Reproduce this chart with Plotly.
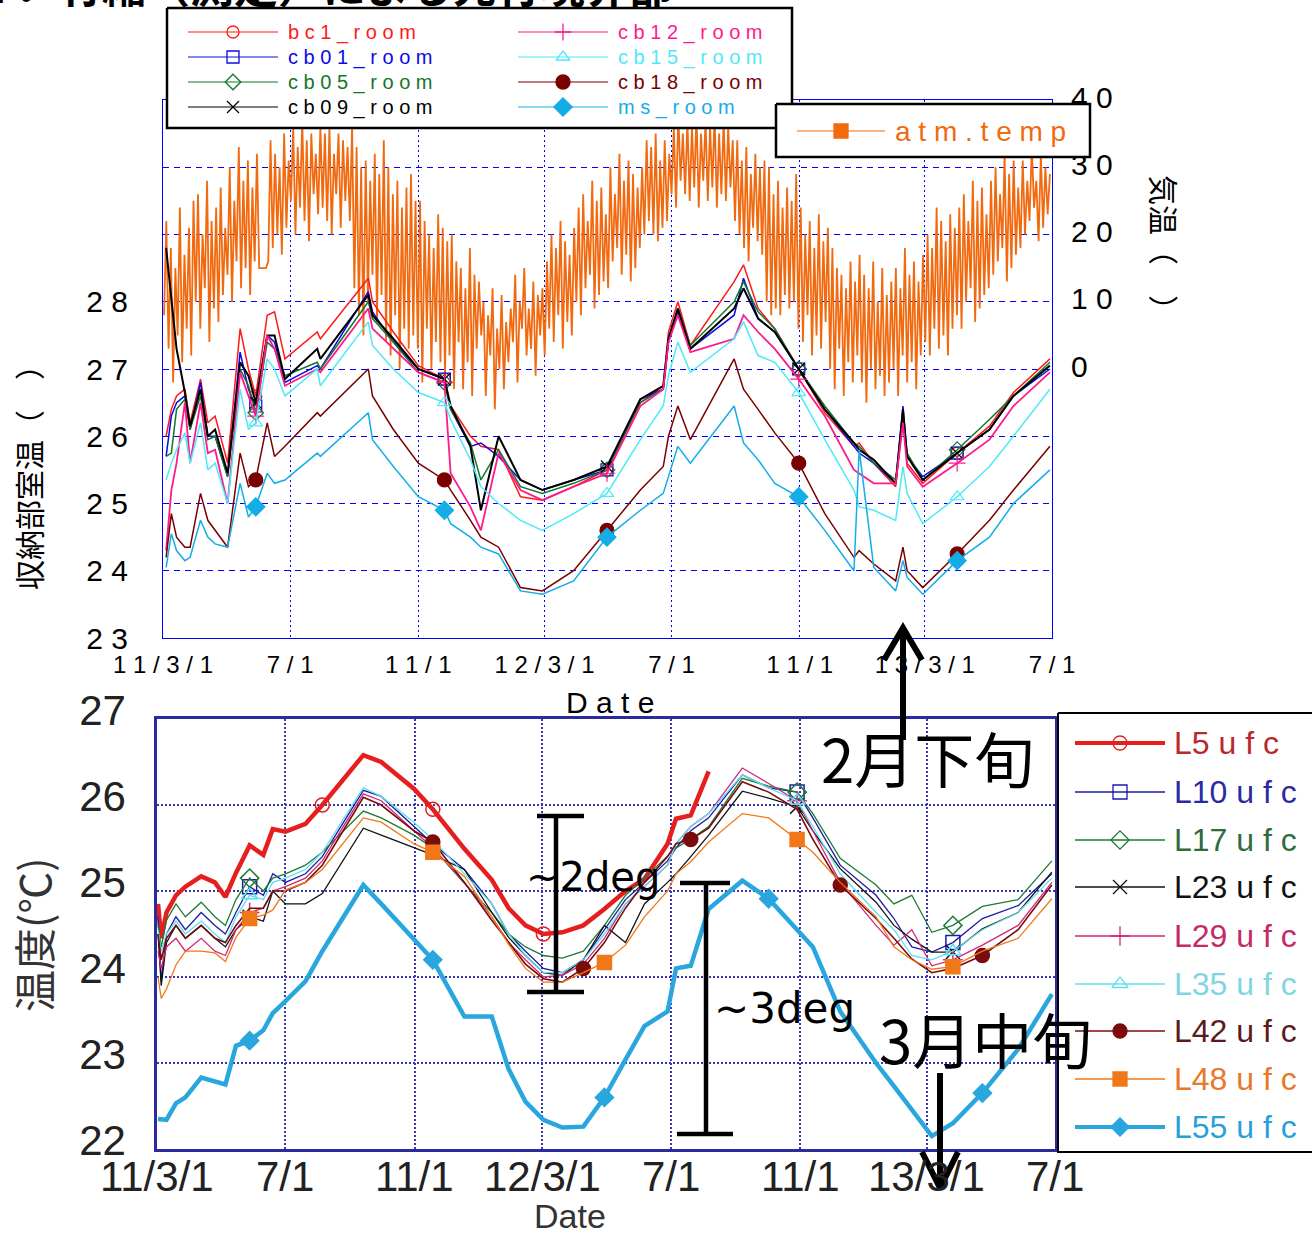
import plotly.graph_objects as go
import pandas as pd

W, H = 1312, 1236

# ---------------- axis ticks ----------------
TICK_DATES = ["2011-03-01", "2011-07-01", "2011-11-01", "2012-03-01",
              "2012-07-01", "2012-11-01", "2013-03-01", "2013-07-01"]
TICK_LABELS = ["11/3/1", "7/1", "11/1", "12/3/1", "7/1", "11/1", "13/3/1", "7/1"]
ROOM_TICKS = [23, 24, 25, 26, 27, 28, 29, 30, 31]
ROOM_LABELS = ["23", "24", "25", "26", "27", "28", "", "", ""]
ATM_TICKS = [0, 10, 20, 30, 40]
BOT_TICKS = [22, 23, 24, 25, 26, 27]

# ---------------- top chart: room temperatures ----------------
TOP_DATES = ["2011-03-04", "2011-03-09", "2011-03-14", "2011-03-22", "2011-03-27",
             "2011-04-06", "2011-04-13", "2011-04-20", "2011-05-02", "2011-05-14",
             "2011-05-22", "2011-05-29", "2011-06-09", "2011-06-16", "2011-06-26",
             "2011-07-27", "2011-07-30", "2011-09-14", "2011-09-18", "2011-10-08",
             "2011-11-01", "2011-11-26", "2011-12-02", "2011-12-21", "2011-12-31",
             "2012-01-17", "2012-02-07", "2012-02-28", "2012-03-29", "2012-04-30",
             "2012-06-01", "2012-06-23", "2012-06-28", "2012-07-07", "2012-07-19",
             "2012-08-30", "2012-09-08", "2012-09-22", "2012-10-08", "2012-10-31",
             "2012-11-25", "2012-12-23", "2012-12-28", "2013-01-11", "2013-02-01",
             "2013-02-08", "2013-02-12", "2013-02-27", "2013-04-01", "2013-05-02",
             "2013-05-25", "2013-06-29"]

BC1_ROOM = [26.0, 26.4, 26.6, 26.7, 26.2, 26.85, 26.2, 26.3, 25.6, 27.6,
            27.0, 26.6, 27.8, 27.85, 27.15, 27.55, 27.45, 28.35, 28.0, 27.55,
            27.05, 26.85, 26.45, 26.0, 25.85, 25.8, 25.1, 25.05, 25.25, 25.5,
            26.5, 26.75, 27.55, 28.0, 27.35, 28.3, 28.55, 27.9, 27.6, 27.0,
            26.35, 25.85, 25.9, 25.6, 25.25, 26.3, 25.6, 25.3, 25.75, 26.15,
            26.65, 27.15]
CB01_ROOM = [25.7, 26.3, 26.5, 26.6, 26.1, 26.8, 26.0, 26.0, 25.4, 27.25,
             26.7, 26.45, 27.5, 27.4, 26.8, 27.05, 27.0, 28.15, 27.85, 27.4,
             27.0, 26.85, 26.4, 25.85, 25.9, 25.7, 25.35, 25.2, 25.35, 25.5,
             26.55, 26.7, 27.4, 27.85, 27.3, 27.8, 28.35, 27.75, 27.55, 27.0,
             26.4, 25.85, 25.75, 25.6, 25.3, 26.45, 25.7, 25.4, 25.75, 26.1,
             26.6, 27.0]
CB05_ROOM = [25.7, 25.75, 26.4, 26.55, 26.1, 26.6, 25.95, 26.0, 25.4, 27.0,
             26.75, 26.35, 27.4, 27.3, 26.9, 27.1, 27.0, 28.0, 27.75, 27.4,
             26.95, 26.8, 26.4, 25.9, 25.35, 25.8, 25.25, 25.15, 25.3, 25.5,
             26.5, 26.7, 27.45, 27.9, 27.35, 28.0, 28.3, 27.85, 27.6, 27.0,
             26.45, 25.9, 25.85, 25.6, 25.35, 26.2, 25.75, 25.35, 25.8, 26.25,
             26.6, 27.1]
CB09_ROOM = [28.8, 28.0, 27.3, 26.65, 26.15, 26.7, 26.0, 26.1, 25.45, 27.1,
             26.9, 26.5, 27.5, 27.5, 26.85, 27.3, 27.15, 28.1, 27.8, 27.45,
             27.0, 26.85, 26.45, 25.85, 24.9, 26.0, 25.35, 25.2, 25.35, 25.55,
             26.55, 26.75, 27.45, 27.9, 27.3, 27.9, 28.2, 27.75, 27.55, 27.0,
             26.4, 25.9, 25.8, 25.65, 25.3, 26.4, 25.7, 25.35, 25.75, 26.1,
             26.6, 27.05]
CB12_ROOM = [24.3, 25.2, 25.6, 26.5, 25.6, 26.5, 25.75, 25.8, 25.0, 26.95,
             26.6, 26.3, 27.5, 27.3, 26.75, 27.0, 26.95, 27.9, 27.6, 27.3,
             26.95, 26.8, 25.45, 24.95, 24.6, 25.75, 25.2, 25.05, 25.25, 25.45,
             26.45, 26.7, 27.4, 27.8, 27.25, 27.45, 27.8, 27.55, 27.3, 26.85,
             26.3, 25.5, 25.45, 25.3, 25.3, 26.2, 25.55, 25.25, 25.6, 25.95,
             26.45, 26.95]
CB15_ROOM = [25.35, 25.6, 25.8, 26.05, 25.6, 26.2, 25.5, 25.6, 25.0, 26.7,
             26.1, 26.2, 27.15, 27.0, 26.6, 27.0, 26.75, 27.7, 27.35, 27.0,
             26.65, 26.5, 26.25, 25.65, 25.25, 25.0, 24.75, 24.6, 24.85, 25.15,
             25.95, 26.45, 26.9, 27.4, 26.95, 27.45, 27.7, 27.2, 27.1, 26.65,
             25.95, 25.2, 24.95, 24.9, 24.75, 25.55, 25.15, 24.7, 25.1, 25.55,
             26.0, 26.7]
CB18_ROOM = [24.2, 24.85, 24.5, 24.35, 24.35, 25.15, 24.75, 24.6, 24.35, 25.75,
             25.25, 25.35, 26.2, 25.7, 25.85, 26.35, 26.3, 27.0, 26.6, 26.1,
             25.6, 25.35, 25.2, 24.75, 24.5, 24.35, 23.75, 23.7, 24.0, 24.6,
             25.2, 25.55, 26.0, 26.45, 25.95, 27.15, 26.7, 26.4, 26.05, 25.6,
             24.85, 24.2, 24.3, 24.1, 23.85, 24.35, 24.0, 23.75, 24.25, 24.75,
             25.2, 25.85]
MS_ROOM = [24.05, 24.55, 24.3, 24.15, 24.2, 24.75, 24.5, 24.4, 24.35, 25.3,
           24.8, 24.95, 25.45, 25.3, 25.35, 25.75, 25.7, 26.35, 25.95, 25.55,
           25.1, 24.9, 24.7, 24.5, 24.35, 24.25, 23.7, 23.65, 23.85, 24.5,
           24.9, 25.15, 25.4, 25.85, 25.6, 26.45, 25.9, 25.65, 25.3, 25.1,
           24.6, 24.0, 25.8, 24.05, 23.7, 24.15, 23.9, 23.65, 24.15, 24.5,
           25.0, 25.5]
TOP_MARK_IDX = [11, 21, 29, 39, 48]

# atmospheric temperature (right axis), 14 readings per month, Mar 2011 - Jun 2013
ATM_BY_MONTH = [
    [8, 22, 3, 18, -2, 15, 5, 24, 1, 17, 6, 21, 2, 25],
    [10, 26, 6, 20, 12, 28, 4, 22, 9, 24, 7, 27, 11, 21],
    [14, 30, 10, 25, 16, 33, 12, 28, 15, 31, 11, 27, 16, 32],
    [15, 15, 15, 15, 16, 34, 18, 32, 20, 30, 17, 35, 21, 31],
    [25, 36, 20, 33, 24, 37, 22, 34, 19, 35, 26, 32, 23, 36],
    [24, 35, 22, 36, 20, 32, 26, 35, 21, 34, 25, 33, 22, 36],
    [12, 33, 8, 30, 5, 31, 10, 28, 14, 32, 7, 29, 11, 34],
    [4, 30, 2, 26, 8, 28, 0, 24, 6, 27, 3, 29, 5, 25],
    [3, 25, -2, 22, 6, 20, 0, 18, 4, 23, 1, 21, -1, 19],
    [2, 20, -3, 16, 4, 15, -3, 12, 1, 18, -4, 14, 3, 13],
    [5, 10, -4, 8, 2, 12, -6, 6, 0, 11, -3, 7, 1, 9],
    [4, 14, -2, 10, 6, 15, 2, 9, 3, 13, -1, 11, 5, 12],
    [2, 16, 6, 20, 4, 18, 8, 22, 3, 19, 7, 17, 5, 21],
    [10, 24, 8, 26, 12, 22, 14, 28, 9, 25, 11, 27, 13, 23],
    [12, 30, 16, 26, 18, 32, 14, 28, 17, 31, 13, 29, 15, 27],
    [18, 30, 20, 34, 22, 33, 20, 35, 19, 31, 21, 34, 22, 32],
    [26, 36, 24, 38, 28, 35, 26, 37, 25, 36, 27, 38, 24, 35],
    [28, 37, 25, 36, 27, 38, 24, 35, 26, 37, 25, 36, 27, 34],
    [22, 34, 20, 31, 18, 33, 16, 29, 21, 32, 19, 30, 17, 31],
    [10, 30, 8, 26, 9, 28, 8, 24, 11, 27, 9, 25, 10, 29],
    [6, 24, 4, 20, 8, 22, 2, 18, 5, 23, 3, 19, 7, 21],
    [0, 18, -3, 15, 3, 14, -4, 12, 1, 16, -2, 13, 2, 17],
    [-2, 14, -5, 12, 0, 16, -3, 10, -1, 15, -4, 11, -2, 13],
    [0, 15, -4, 12, 2, 18, -2, 14, 1, 16, -3, 13, 2, 17],
    [4, 20, 2, 18, 6, 24, 3, 22, 5, 19, 2, 23, 6, 21],
    [8, 24, 6, 26, 10, 22, 12, 28, 7, 25, 9, 27, 11, 23],
    [12, 28, 14, 30, 16, 26, 18, 32, 13, 29, 15, 31, 17, 27],
    [18, 31, 20, 28, 22, 33, 24, 28, 19, 32, 21, 30, 23, 29],
]
ATM_TEMP = [v for month in ATM_BY_MONTH for v in month]
ATM_DATES = pd.date_range("2011-03-02", "2013-06-29", periods=len(ATM_TEMP))

# ---------------- bottom chart: ufc temperatures ----------------
BOT_DATES = ["2011-03-02", "2011-03-05", "2011-03-10", "2011-03-19", "2011-03-28",
             "2011-04-12", "2011-04-25", "2011-05-05", "2011-05-15", "2011-05-28",
             "2011-06-10", "2011-06-19", "2011-07-01", "2011-07-20", "2011-08-05",
             "2011-09-13", "2011-09-30", "2011-10-31", "2011-11-18", "2011-12-18",
             "2012-01-13", "2012-01-29", "2012-02-14", "2012-03-02", "2012-03-20",
             "2012-04-09", "2012-04-29", "2012-05-19", "2012-06-06", "2012-06-28",
             "2012-07-06", "2012-07-20", "2012-08-06", "2012-09-07", "2012-10-02",
             "2012-10-29", "2012-11-13", "2012-12-09", "2013-01-12", "2013-01-29",
             "2013-02-15", "2013-03-06", "2013-03-26", "2013-04-23", "2013-05-27",
             "2013-06-28"]
L5 = [24.85, 24.45, 24.75, 24.95, 25.05, 25.17, 25.1, 24.93, 25.21, 25.53,
      25.42, 25.72, 25.69, 25.78, 26.0, 26.58, 26.5, 26.19, 25.95, 25.49,
      25.13, 24.8, 24.6, 24.5, 24.52, 24.6, 24.79, 25.0, 25.14, 25.55,
      25.84, 25.88, 26.39] + [None] * 13
L10 = [24.7, 23.95, 24.5, 24.7, 24.55, 24.75, 24.6, 24.5, 24.75, 25.05,
       24.95, 25.2, 25.1, 25.2, 25.4, 26.17, 26.1, 25.75, 25.55, 25.25,
       24.85, 24.5, 24.3, 24.1, 24.05, 24.2, 24.55, 24.9, 25.1, 25.35,
       25.5, 25.7, 25.85, 26.35, 26.2, 26.15, 25.85, 25.3, 24.95, 24.68,
       24.35, 24.29, 24.4, 24.68, 24.83, 25.2]
L17 = [24.6, 24.35, 24.66, 24.85, 24.7, 24.87, 24.7, 24.6, 24.9, 25.15,
       25.0, 25.15, 25.2, 25.3, 25.45, 25.93, 25.85, 25.65, 25.5, 25.09,
       24.75, 24.5, 24.35, 24.25, 24.22, 24.3, 24.6, 24.95, 25.15, 25.4,
       25.5, 25.6, 25.75, 26.31, 26.22, 26.15, 25.9, 25.38, 25.07, 24.85,
       24.95, 24.52, 24.6, 24.82, 24.9, 25.35]
L23 = [24.5, 23.9, 24.4, 24.6, 24.45, 24.6, 24.45, 24.35, 24.55, 24.7,
       24.65, 25.0, 24.85, 24.85, 24.97, 25.73, 25.65, 25.5, 25.42, 25.25,
       24.75, 24.46, 24.25, 24.05, 24.02, 24.2, 24.6, 24.4, 24.85, 25.1,
       25.2, 25.4, 25.65, 26.16, 26.08, 25.98, 25.7, 25.26, 24.87, 24.6,
       24.44, 24.29, 24.29, 24.56, 24.75, 25.22]
L29 = [24.3, 24.1, 24.35, 24.45, 24.3, 24.45, 24.3, 24.25, 24.55, 24.75,
       24.8, 25.0, 25.05, 25.15, 25.35, 26.13, 26.05, 25.7, 25.5, 25.1,
       24.7, 24.4, 24.2, 24.0, 24.02, 24.15, 24.45, 24.85, 25.05, 25.3,
       25.55, 25.75, 25.9, 26.43, 26.25, 26.05, 25.7, 25.1, 24.6, 24.37,
       24.55, 24.13, 24.2, 24.37, 24.6, 25.1]
L35 = [24.55, 24.3, 24.5, 24.65, 24.5, 24.65, 24.5, 24.4, 24.7, 24.95,
       24.9, 25.1, 25.15, 25.25, 25.45, 26.2, 26.1, 25.8, 25.6, 25.2,
       24.85, 24.5, 24.25, 24.05, 24.05, 24.2, 24.5, 24.85, 25.05, 25.3,
       25.55, 25.75, 25.9, 26.35, 26.2, 26.05, 25.75, 25.2, 24.75, 24.55,
       24.25, 24.2, 24.3, 24.55, 24.75, 25.15]
L42 = [24.5, 24.2, 24.45, 24.6, 24.45, 24.6, 24.45, 24.4, 24.6, 24.8,
       24.8, 25.0, 25.0, 25.1, 25.3, 26.09, 26.0, 25.7, 25.57, 25.1,
       24.66, 24.4, 24.15, 23.98, 23.94, 24.1, 24.4, 24.8, 25.1, 25.4,
       25.55, 25.6, 25.73, 26.27, 26.15, 25.95, 25.6, 25.07, 24.68, 24.45,
       24.21, 24.05, 24.1, 24.25, 24.55, 25.07]
L48 = [24.0, 23.75, 23.86, 24.14, 24.3, 24.3, 24.28, 24.18, 24.46, 24.68,
       24.72, 24.78, 25.01, 25.1, 25.25, 25.85, 25.8, 25.55, 25.45, 25.17,
       24.7, 24.38, 24.1, 23.94, 23.94, 24.05, 24.17, 24.37, 24.7, 25.0,
       25.2, 25.34, 25.57, 25.9, 25.85, 25.6, 25.45, 25.1, 24.7, 24.35,
       24.2, 24.09, 24.12, 24.3, 24.45, 24.91]
L55 = [22.35, 22.35, 22.34, 22.53, 22.6, 22.83, 22.78, 22.75, 23.2, 23.26,
       23.38, 23.58, 23.72, 23.95, 24.3, 25.07, 24.85, 24.44, 24.2, 23.54,
       23.54, 22.93, 22.55, 22.34, 22.25, 22.26, 22.6, 23.04, 23.43, 23.6,
       24.1, 24.13, 24.79, 25.12, 24.91, 24.55, 24.35, 23.6, 23.0, 22.73,
       22.46, 22.15, 22.3, 22.65, 23.16, 23.8]

# ---------------- styles ----------------
TOP_SERIES = [
    ("bc1_room", BC1_ROOM, "#ff1a1a", "circle-open", 1.5),
    ("cb01_room", CB01_ROOM, "#0a0ae6", "square-open", 1.5),
    ("cb05_room", CB05_ROOM, "#13772a", "diamond-open", 1.5),
    ("cb09_room", CB09_ROOM, "#000000", "x-thin-open", 2.0),
    ("cb12_room", CB12_ROOM, "#ff1a8c", "cross-thin-open", 1.8),
    ("cb15_room", CB15_ROOM, "#4fe9f7", "triangle-up-open", 1.5),
    ("cb18_room", CB18_ROOM, "#7a0000", "circle", 1.5),
    ("ms_room", MS_ROOM, "#14ade6", "diamond", 1.5),
]
BOT_SERIES = [
    ("L5", L5, "#e61e1e", "#b8282c", "circle-open", 4.5, [14, 18, 23]),
    ("L10", L10, "#1c1ca6", "#2b2ba0", "square-open", 1.3, [9, 35, 42]),
    ("L17", L17, "#1e7a32", "#2f6b3c", "diamond-open", 1.3, [9, 35, 42]),
    ("L23", L23, "#111111", "#111111", "x-thin-open", 1.3, [9, 35, 42]),
    ("L29", L29, "#d0287a", "#c42a6a", "cross-thin-open", 1.3, [9, 35, 42]),
    ("L35", L35, "#5fe0ef", "#7fd6df", "triangle-up-open", 1.3, [9, 35, 42]),
    ("L42", L42, "#7a0c0c", "#5c1a1a", "circle", 1.6, [18, 25, 31, 37, 43]),
    ("L48", L48, "#f07818", "#e8782a", "square", 1.3, [9, 18, 26, 35, 42]),
    ("L55", L55, "#29a6de", "#2a9fd6", "diamond", 4.5, [9, 18, 26, 34, 43]),
]
BLUE = "#0000ff"
NAVY = "#2b2ba0"

fig = go.Figure()

# atmospheric temperature first (underneath)
fig.add_trace(go.Scatter(x=ATM_DATES, y=ATM_TEMP, xaxis="x", yaxis="y", mode="lines",
                         line=dict(color="#f26a10", width=1.8), hoverinfo="skip"))

for name, vals, col, sym, lw in TOP_SERIES:
    fig.add_trace(go.Scatter(x=TOP_DATES, y=vals, xaxis="x", yaxis="y2", mode="lines",
                             line=dict(color=col, width=lw), hoverinfo="skip"))
    filled = sym in ("circle", "diamond")
    fig.add_trace(go.Scatter(
        x=[TOP_DATES[i] for i in TOP_MARK_IDX], y=[vals[i] for i in TOP_MARK_IDX],
        xaxis="x", yaxis="y2", mode="markers",
        marker=dict(symbol=sym, size=14 if filled else 12, color=col,
                    line=dict(color=col, width=1.2)), hoverinfo="skip"))

for name, vals, col, tcol, sym, lw, midx in BOT_SERIES:
    fig.add_trace(go.Scatter(x=BOT_DATES, y=vals, xaxis="x2", yaxis="y3", mode="lines",
                             line=dict(color=col, width=lw), connectgaps=False,
                             hoverinfo="skip"))
    fig.add_trace(go.Scatter(
        x=[BOT_DATES[i] for i in midx], y=[vals[i] for i in midx],
        xaxis="x2", yaxis="y3", mode="markers",
        marker=dict(symbol=sym, size=14, color=col, line=dict(color=col, width=1.5)),
        hoverinfo="skip"))

# ---------------- overlay helpers (pixel coordinates) ----------------
def seg(xs, ys, color="black", width=4.0):
    fig.add_trace(go.Scatter(x=xs, y=ys, xaxis="x3", yaxis="y4", mode="lines",
                             line=dict(color=color, width=width), hoverinfo="skip"))


def box(x0, y0, x1, y1, width=2.5):
    fig.add_trace(go.Scatter(x=[x0, x1, x1, x0, x0], y=[y0, y0, y1, y1, y0],
                             xaxis="x3", yaxis="y4", mode="lines", fill="toself",
                             fillcolor="white", line=dict(color="black", width=width),
                             hoverinfo="skip"))


def sample(x0, x1, y, col, lw, sym, msize):
    seg([x0, x1], [y, y], col, lw)
    fig.add_trace(go.Scatter(x=[(x0 + x1) / 2], y=[y], xaxis="x3", yaxis="y4",
                             mode="markers",
                             marker=dict(symbol=sym, size=msize, color=col,
                                         line=dict(color=col, width=1.3)),
                             hoverinfo="skip"))


def text(t, x, y, size, color="black", family="Liberation Sans", xanchor="center",
         angle=0, yanchor="middle", xref="x3"):
    fig.add_annotation(x=x, y=y, xref=xref, yref="y4", text=t, showarrow=False,
                       xanchor=xanchor, yanchor=yanchor, textangle=angle,
                       font=dict(size=size, color=color, family=family))


def spaced(s):
    return " ".join(s)

# top legend
box(167, 8, 792, 128)
for k, (name, vals, col, sym, lw) in enumerate(TOP_SERIES):
    col_i, row = divmod(k, 4)
    y = 32 + 25 * row
    x0 = 188 if col_i == 0 else 518
    filled = sym in ("circle", "diamond")
    sample(x0, x0 + 90, y, col, 1.2, sym, 14 if filled else 12)
    text(spaced(name), x0 + 98, y, 20, col, xanchor="left")

# atm legend
box(776, 104, 1090, 157)
sample(797, 885, 131, "#f26a10", 1.2, "square", 14)
text(spaced("atm.temp"), 893, 131, 28, "#f26a10", xanchor="left")

# bottom legend
box(1058, 713, 1318, 1152, width=2)
BOT_LEG_Y = [743, 792, 840, 887, 936, 984, 1031, 1079, 1127]
for (name, vals, col, tcol, sym, lw, midx), y in zip(BOT_SERIES, BOT_LEG_Y):
    sample(1075, 1165, y, col, 4 if lw > 3 else 1.5, sym, 14)
    text(name + " " + spaced("ufc"), 1172, y, 32, tcol, xanchor="left")

# bottom x tick labels (placed on the bottom date axis)
for d, lab in zip(TICK_DATES, TICK_LABELS):
    text(lab, d, 1176, 42, "#222222", xref="x2")

# I-beams
seg([556, 556], [816, 992], "black", 4.5)
seg([537, 584], [816, 816], "black", 4.5)
seg([527, 584], [992, 992], "black", 4.5)
seg([706, 706], [883, 1134], "black", 4.5)
seg([680, 730], [883, 883], "black", 4.5)
seg([677, 733], [1134, 1134], "black", 4.5)
text("~2deg", 524, 877, 40, "black", family="DejaVu Sans", xanchor="left")
text("~3deg", 712, 1008, 42, "black", family="DejaVu Sans", xanchor="left")

# arrows
seg([903, 903], [630, 740], "black", 6)
seg([884, 903, 922], [660, 628, 660], "black", 6)
seg([940, 940], [1073, 1186], "black", 6)
seg([922, 940, 958], [1152, 1188, 1152], "black", 6)
text("2月下旬", 927, 756, 60, "black", family="Noto Sans CJK JP")
text("3月中旬", 985, 1037, 60, "black", family="Noto Sans CJK JP")

# page heading, cut off at the top edge as in the source (paper-referenced)
fig.add_annotation(x=330 / W, y=1 + 16 / H, xref="paper", yref="paper",
                   text="<b>7．竹縮（測定）による先行境界部</b>", showarrow=False,
                   xanchor="center", yanchor="middle",
                   font=dict(size=44, color="black", family="Noto Sans CJK JP"))

text("収納部室温（　）", 28, 470, 30, "black", family="Noto Sans CJK JP", angle=-90)
text("気温（　）", 1165, 250, 30, "black", family="Noto Sans CJK JP", angle=90)
text(spaced("Date"), 610, 702, 30, "black")
text("温度(℃)", 32, 935, 42, "#333333", family="Noto Sans CJK JP", angle=-90)
text("Date", 570, 1216, 34, "#333333")

# ---------------- layout ----------------
fig.update_layout(
    template="none", width=W, height=H,
    margin=dict(l=0, r=0, t=0, b=0),
    paper_bgcolor="white", plot_bgcolor="rgba(0,0,0,0)", showlegend=False,
    xaxis=dict(domain=[163 / W, 1052 / W], anchor="y", type="date",
               range=["2011-03-01", "2013-07-01"], tickmode="array",
               tickvals=TICK_DATES, ticktext=[spaced(t) for t in TICK_LABELS],
               showgrid=True, gridcolor=BLUE, griddash="2px,3px", gridwidth=1,
               showline=True, linecolor=BLUE, linewidth=1.2, mirror=True,
               ticks="", zeroline=False, automargin=False, ticklabelstandoff=5,
               tickfont=dict(family="Liberation Sans", size=24, color="black")),
    yaxis=dict(domain=[1 - 638 / H, 1 - 100 / H], anchor="x", side="right",
               range=[-40, 40], tickmode="array", tickvals=ATM_TICKS,
               ticktext=[spaced(str(v)) for v in ATM_TICKS],
               showgrid=False, zeroline=False, showline=True, linecolor=BLUE,
               linewidth=1.2, ticks="", automargin=False, ticklabelstandoff=12,
               ticklabelshift=-3,
               tickfont=dict(family="Liberation Sans", size=30, color="black")),
    yaxis2=dict(overlaying="y", anchor="x", side="left", range=[23, 31],
                tickmode="array", tickvals=ROOM_TICKS,
                ticktext=[spaced(t) for t in ROOM_LABELS],
                showgrid=True, gridcolor=BLUE, griddash="6px,5px", gridwidth=1,
                zeroline=False, showline=True, linecolor=BLUE, linewidth=1.2,
                ticks="", automargin=False, ticklabelstandoff=28,
                tickfont=dict(family="Liberation Sans", size=30, color="black")),
    xaxis2=dict(domain=[157 / W, 1055 / W], anchor="y3", type="date",
                range=["2011-03-01", "2013-07-01"], tickmode="array",
                tickvals=TICK_DATES, showticklabels=False,
                showgrid=True, gridcolor="#3a36b0", griddash="2px,2px", gridwidth=1.6,
                showline=True, linecolor=NAVY, linewidth=2.5, mirror=True,
                ticks="", zeroline=False, automargin=False),
    yaxis3=dict(domain=[1 - 1149 / H, 1 - 719 / H], anchor="x2", range=[22, 27],
                tickmode="array", tickvals=BOT_TICKS,
                ticktext=[str(v) for v in BOT_TICKS],
                showgrid=True, gridcolor="#3a36b0", griddash="2px,2px", gridwidth=1.6,
                showline=True, linecolor=NAVY, linewidth=2.5, mirror=True,
                ticks="", zeroline=False, automargin=False, ticklabelstandoff=20,
                ticklabelshift=-9,
                tickfont=dict(family="Liberation Sans", size=42, color="#222222")),
    xaxis3=dict(domain=[0, 1], anchor="y4", range=[0, W], visible=False,
                fixedrange=True, automargin=False),
    yaxis4=dict(domain=[0, 1], anchor="x3", range=[H, 0], visible=False,
                fixedrange=True, automargin=False),
)

fig.write_html("out.html")
